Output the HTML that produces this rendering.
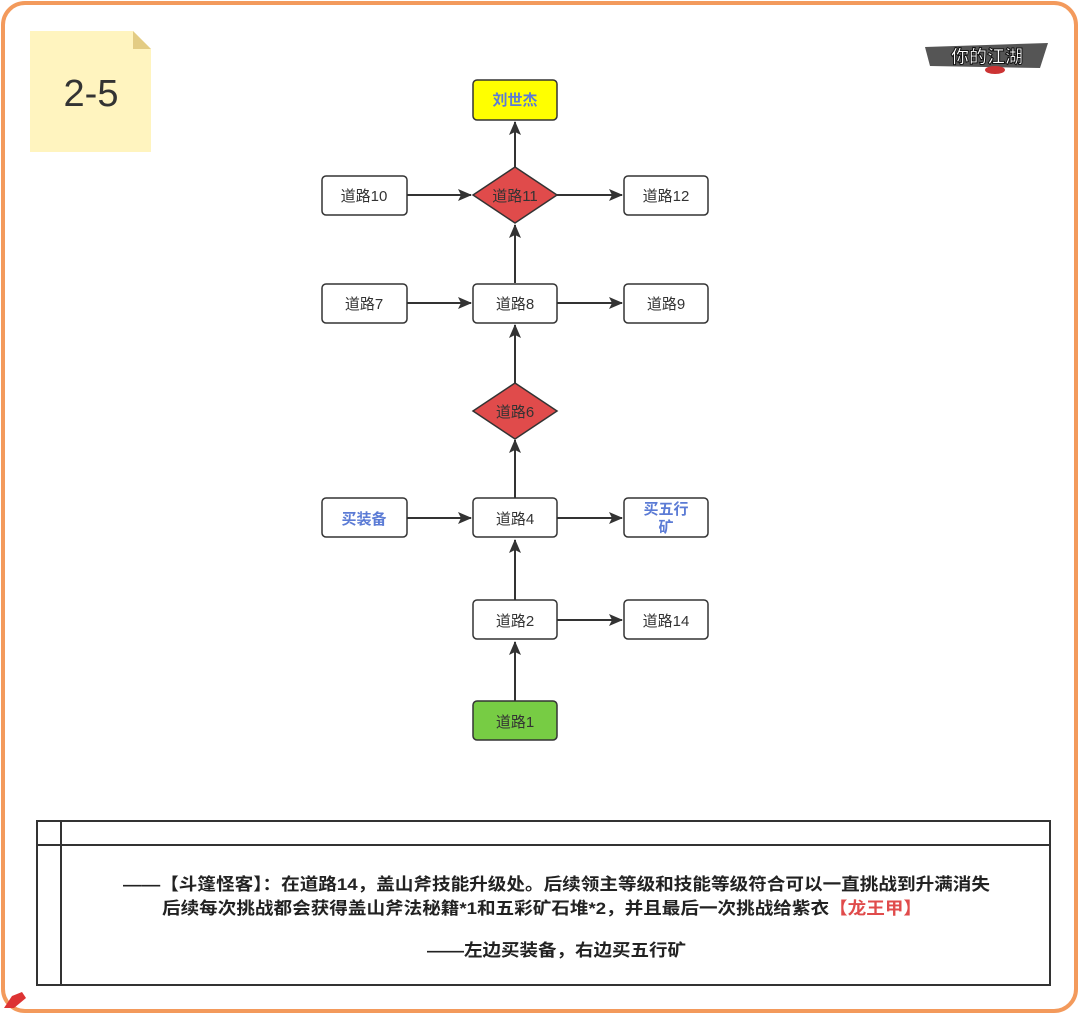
<!DOCTYPE html>
<html><head><meta charset="utf-8"><style>
body{margin:0;background:#fff;}
svg{display:block;font-family:"Liberation Sans","Noto Sans CJK SC",sans-serif;}
</style></head><body>
<svg width="1080" height="1015" viewBox="0 0 1080 1015">
<defs><marker id="a" markerWidth="14" markerHeight="12" refX="13" refY="6" orient="auto" markerUnits="userSpaceOnUse"><path d="M0,0 L14,6 L0,12 L3,6z" fill="#333"/></marker></defs>
<rect x="3" y="3" width="1073" height="1008" rx="22" fill="#fff" stroke="#f39a5c" stroke-width="4"/>
<path d="M30,31 H133 L151,49 V152 H30z" fill="#fff4bf"/>
<path d="M133,31 L151,49 H133z" fill="#e3cc84"/>
<text x="91" y="106" font-size="38" text-anchor="middle" fill="#333">2-5</text>
<path d="M925,47 L1048,43 L1040,68 L930,66z" fill="#555"/>
<text x="987" y="63" font-size="18" font-weight="bold" fill="#fff" text-anchor="middle" stroke="#111" stroke-width="1">你的江湖</text>
<ellipse cx="995" cy="70" rx="10" ry="4" fill="#c33"/>
<g stroke="#333" stroke-width="2" fill="none" marker-end="url(#a)">
<line x1="515" y1="167" x2="515" y2="122"/>
<line x1="407" y1="195" x2="471" y2="195"/>
<line x1="557" y1="195" x2="622" y2="195"/>
<line x1="515" y1="283" x2="515" y2="225"/>
<line x1="407" y1="303" x2="471" y2="303"/>
<line x1="557" y1="303" x2="622" y2="303"/>
<line x1="515" y1="383" x2="515" y2="325"/>
<line x1="515" y1="498" x2="515" y2="440"/>
<line x1="407" y1="518" x2="471" y2="518"/>
<line x1="557" y1="518" x2="622" y2="518"/>
<line x1="515" y1="600" x2="515" y2="540"/>
<line x1="557" y1="620" x2="622" y2="620"/>
<line x1="515" y1="701" x2="515" y2="642"/>
</g>
<g stroke="#333" stroke-width="1.5" font-size="15" text-anchor="middle">
<rect x="473" y="80" width="84" height="40" rx="4" fill="#ffff00"/>
<text x="515" y="105" fill="#5b7bd5" stroke="none" font-weight="bold">刘世杰</text>
<rect x="322" y="176" width="85" height="39" rx="4" fill="#fff"/><text x="364" y="201" stroke="none" fill="#333">道路10</text>
<path d="M515,167 L557,195 L515,223 L473,195z" fill="#e04b4b"/><text x="515" y="201" stroke="none" fill="#333">道路11</text>
<rect x="624" y="176" width="84" height="39" rx="4" fill="#fff"/><text x="666" y="201" stroke="none" fill="#333">道路12</text>
<rect x="322" y="284" width="85" height="39" rx="4" fill="#fff"/><text x="364" y="309" stroke="none" fill="#333">道路7</text>
<rect x="473" y="284" width="84" height="39" rx="4" fill="#fff"/><text x="515" y="309" stroke="none" fill="#333">道路8</text>
<rect x="624" y="284" width="84" height="39" rx="4" fill="#fff"/><text x="666" y="309" stroke="none" fill="#333">道路9</text>
<path d="M515,383 L557,411 L515,439 L473,411z" fill="#e04b4b"/><text x="515" y="417" stroke="none" fill="#333">道路6</text>
<rect x="322" y="498" width="85" height="39" rx="4" fill="#fff"/><text x="364" y="524" stroke="none" fill="#5b7bd5" font-weight="bold">买装备</text>
<rect x="473" y="498" width="84" height="39" rx="4" fill="#fff"/><text x="515" y="524" stroke="none" fill="#333">道路4</text>
<rect x="624" y="498" width="84" height="39" rx="4" fill="#fff"/><text x="666" y="514" stroke="none" fill="#5b7bd5" font-weight="bold">买五行</text><text x="666" y="532" stroke="none" fill="#5b7bd5" font-weight="bold">矿</text>
<rect x="473" y="600" width="84" height="39" rx="4" fill="#fff"/><text x="515" y="626" stroke="none" fill="#333">道路2</text>
<rect x="624" y="600" width="84" height="39" rx="4" fill="#fff"/><text x="666" y="626" stroke="none" fill="#333">道路14</text>
<rect x="473" y="701" width="84" height="39" rx="4" fill="#77cc44"/><text x="515" y="727" stroke="none" fill="#333">道路1</text>
</g>
<g stroke="#333" stroke-width="2" fill="none">
<rect x="37" y="821" width="1013" height="164"/>
<line x1="37" y1="845" x2="1050" y2="845"/>
<line x1="61" y1="821" x2="61" y2="985"/>
</g>
<g font-size="17" font-weight="bold" fill="#222">
<text x="123" y="890" textLength="867" lengthAdjust="spacingAndGlyphs">——【斗篷怪客】：在道路14，盖山斧技能升级处。后续领主等级和技能等级符合可以一直挑战到升满消失</text>
<text x="162" y="914" textLength="760" lengthAdjust="spacingAndGlyphs">后续每次挑战都会获得盖山斧法秘籍*1和五彩矿石堆*2，并且最后一次挑战给紫衣<tspan fill="#e04b4b">【龙王甲】</tspan></text>
<text x="427" y="956" textLength="259" lengthAdjust="spacingAndGlyphs">——左边买装备，右边买五行矿</text>
</g>
<path d="M4,1008 L12,996 L22,992 L26,998 L14,1008z" fill="#d33"/>
</svg>
</body></html>
